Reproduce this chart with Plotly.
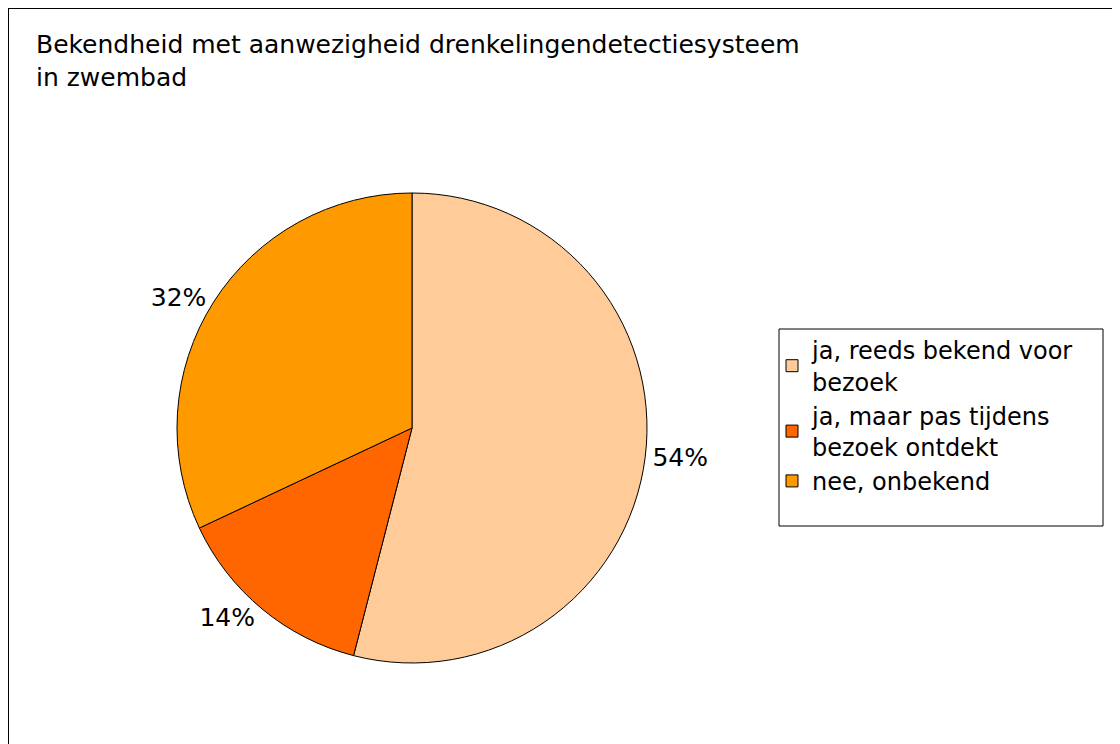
import plotly.graph_objects as go

categories = ["ja, reeds bekend voor<br>bezoek", "ja, maar pas tijdens<br>bezoek ontdekt", "nee, onbekend"]
values = [54, 14, 32]
colors = ["#FFCC99", "#FF6600", "#FF9900"]

W, H = 1120, 744
FONT = "DejaVu Sans"

cx, cy, r = 404, 420, 235

fig = go.Figure(go.Pie(
    labels=categories,
    values=values,
    sort=False,
    direction="clockwise",
    rotation=0,
    marker=dict(colors=colors, line=dict(color="black", width=1)),
    textinfo="percent",
    texttemplate="%{percent:.0%}",
    textposition="outside",
    outsidetextfont=dict(family=FONT, size=25, color="black"),
    domain=dict(x=[(cx - r) / W, (cx + r) / W], y=[(H - cy - r) / H, (H - cy + r) / H]),
    showlegend=True,
))

fig.update_layout(
    width=W, height=H,
    margin=dict(l=0, r=0, t=0, b=0),
    paper_bgcolor="white",
    font=dict(family=FONT, size=24, color="black"),
    title=dict(
        text="Bekendheid met aanwezigheid drenkelingendetectiesysteem<br>in zwembad",
        x=28 / W, xanchor="left", y=1 - 45 / H, yanchor="top",
        font=dict(family=FONT, size=25, color="black"),
    ),
    legend=dict(
        x=764 / W, xanchor="left", y=1 - 320 / H, yanchor="top",
        font=dict(family=FONT, size=24, color="black"),
        bgcolor="rgba(0,0,0,0)",
        borderwidth=0,
        tracegroupgap=0,
    ),
    shapes=[
        dict(type="rect", xref="paper", yref="paper",
             x0=0, x1=1.2, y0=-0.2, y1=1,
             line=dict(color="black", width=2), fillcolor="rgba(0,0,0,0)", layer="below"),
        dict(type="rect", xref="paper", yref="paper",
             x0=771 / W, x1=1095 / W, y0=1 - 518 / H, y1=1 - 321 / H,
             line=dict(color="black", width=1), fillcolor="rgba(0,0,0,0)", layer="below"),
    ],
)

fig.write_html("out.html")
